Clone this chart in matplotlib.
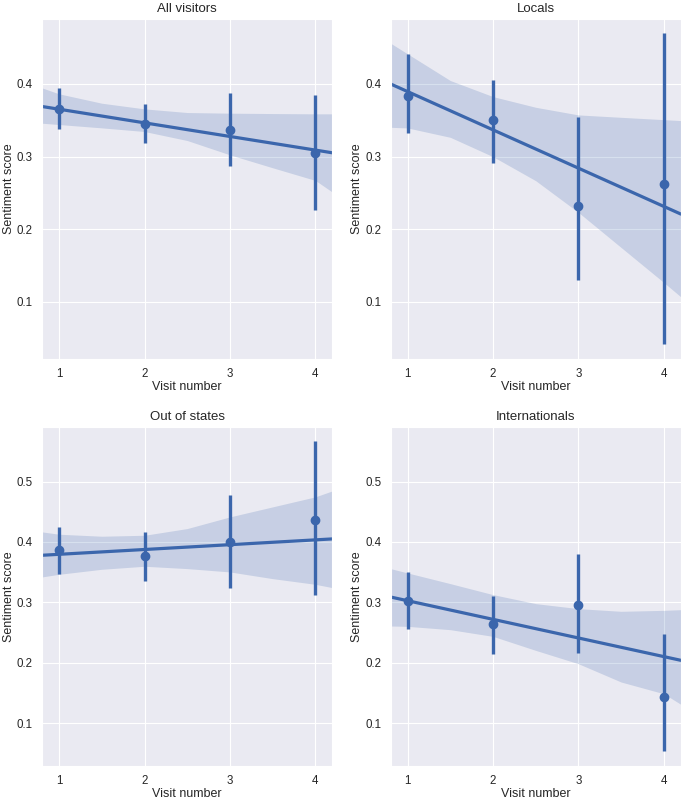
import numpy as np
import matplotlib
matplotlib.use("Agg")
import matplotlib.pyplot as plt
import seaborn as sns

sns.set_style("darkgrid")
plt.rcParams['font.family'] = ['Liberation Sans', 'DejaVu Sans']

# data
visits = [1, 2, 3, 4]
titles = ["All visitors", "Locals", "Out of states", "Internationals"]

# mean sentiment per visit number and its confidence interval
mean_all = [0.366, 0.345, 0.336, 0.305]
low_all = [0.338, 0.318, 0.287, 0.226]
high_all = [0.3945, 0.373, 0.388, 0.385]

mean_loc = [0.384, 0.3505, 0.2314, 0.2626]
low_loc = [0.332, 0.2914, 0.1306, 0.0427]
high_loc = [0.441, 0.406, 0.354, 0.4696]

mean_out = [0.3858, 0.377, 0.4001, 0.437]
low_out = [0.3472, 0.336, 0.324, 0.3113]
high_out = [0.4255, 0.4172, 0.478, 0.5668]

mean_int = [0.3025, 0.2633, 0.2948, 0.143]
low_int = [0.2556, 0.2148, 0.2164, 0.0531]
high_int = [0.35, 0.3102, 0.3803, 0.2468]

# regression fit (intercept, slope)
fit_all = (0.3839, -0.01874)
fit_loc = (0.4421, -0.05268)
fit_out = (0.3715, 0.00797)
fit_int = (0.3335, -0.03085)

# bootstrap confidence band of the fit
band_x = [0.8, 1.0, 1.5, 2.0, 2.5, 3.0, 3.5, 4.0, 4.2]
band_all_hi = [0.3945, 0.3863, 0.3734, 0.3656, 0.3606, 0.3597, 0.3592, 0.3588, 0.3588]
band_all_lo = [0.3459, 0.3441, 0.3395, 0.3345, 0.3221, 0.3024, 0.2846, 0.2672, 0.2511]
band_loc_hi = [0.456, 0.4413, 0.4046, 0.3825, 0.3678, 0.3573, 0.354, 0.3508, 0.3495]
band_loc_lo = [0.3403, 0.3394, 0.3265, 0.2999, 0.2668, 0.2232, 0.1749, 0.1267, 0.1069]
band_out_hi = [0.4166, 0.4127, 0.4094, 0.411, 0.4221, 0.4414, 0.458, 0.4746, 0.4845]
band_out_lo = [0.342, 0.3464, 0.3547, 0.3597, 0.3558, 0.3503, 0.3392, 0.3298, 0.3243]
band_int_hi = [0.3558, 0.3486, 0.3309, 0.3127, 0.2978, 0.2895, 0.2851, 0.2867, 0.2878]
band_int_lo = [0.2608, 0.2602, 0.2547, 0.2436, 0.2204, 0.1983, 0.168, 0.1486, 0.131]

panels = [
    (mean_all, low_all, high_all, fit_all, band_all_lo, band_all_hi),
    (mean_loc, low_loc, high_loc, fit_loc, band_loc_lo, band_loc_hi),
    (mean_out, low_out, high_out, fit_out, band_out_lo, band_out_hi),
    (mean_int, low_int, high_int, fit_int, band_int_lo, band_int_hi),
]
ylims = [(0.022, 0.489), (0.022, 0.489), (0.029, 0.591), (0.029, 0.591)]

blue = "#3b66ac"

fig, axes = plt.subplots(2, 2, figsize=(6.83, 8), dpi=100)
fig.subplots_adjust(left=0.0615, right=0.997, top=0.976, bottom=0.0425,
                    wspace=0.2, hspace=0.2)

for ax, title, (m, lo, hi, fit, blo, bhi), yl in zip(axes.flat, titles, panels, ylims):
    xs = np.array(band_x)
    ax.fill_between(xs, blo, bhi, color=blue, alpha=0.2, lw=0)
    ax.plot(xs, fit[0] + fit[1] * xs, color=blue, lw=2.3)
    ax.vlines(visits, lo, hi, color=blue, lw=2.4)
    ax.plot(visits, m, "o", color=blue, ms=6)
    ax.set_xlim(0.8, 4.2)
    ax.set_ylim(*yl)
    ax.set_xticks(visits)
    ax.set_yticks([0.1, 0.2, 0.3, 0.4] if yl[1] < 0.5 else [0.1, 0.2, 0.3, 0.4, 0.5])
    ax.set_title(title, fontsize=9.5, color=".15", pad=5)
    ax.set_xlabel("Visit number", fontsize=9, color=".15", labelpad=1)
    ax.set_ylabel("Sentiment score", fontsize=9, color=".15", labelpad=1.5)
    ax.tick_params(labelsize=8.3, colors=".15", pad=3)

fig.savefig("out.png", dpi=100)
